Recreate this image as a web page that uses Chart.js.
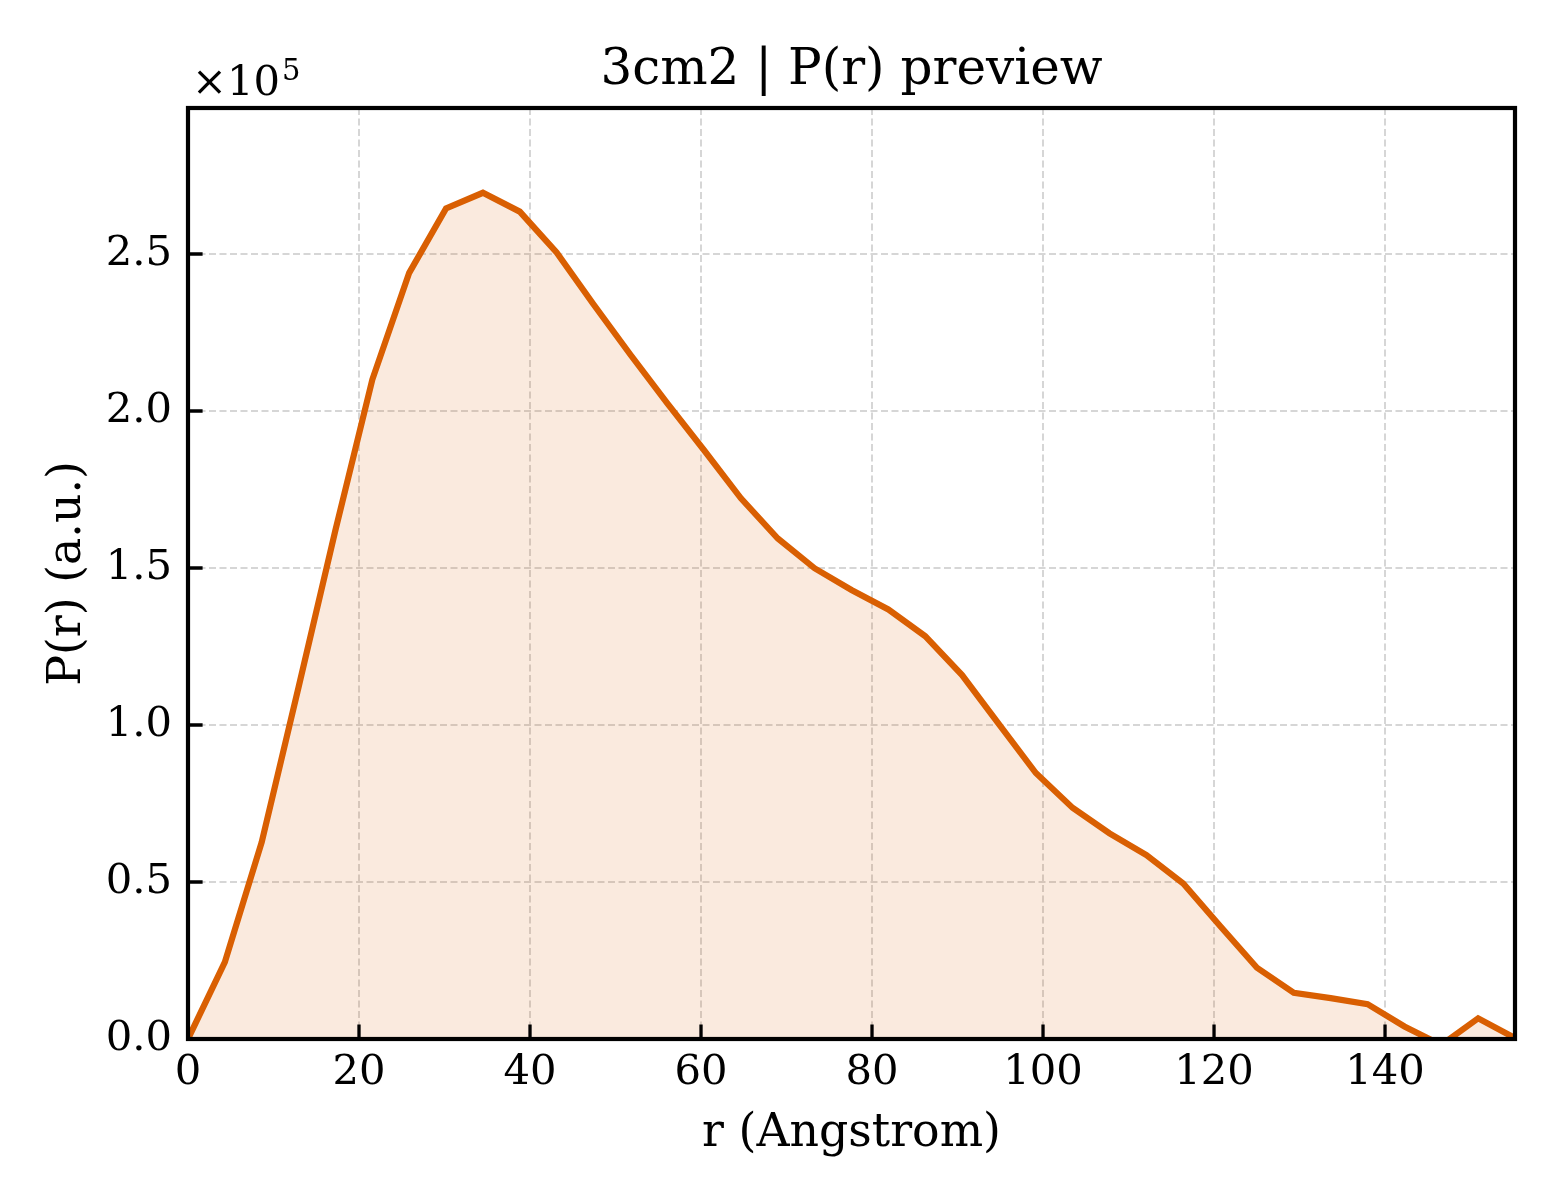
<!DOCTYPE html>
<html>
<head>
<meta charset="utf-8">
<title>3cm2 | P(r) preview</title>
<script src="https://cdn.jsdelivr.net/npm/chart.js@4.4.1/dist/chart.umd.min.js"></script>
<style>
  html, body { margin: 0; padding: 0; background: #fff; }
  #wrap { width: 1560px; height: 1200px; }
</style>
</head>
<body>
<div id="wrap"><canvas id="pr" width="1560" height="1200"></canvas></div>
<script>
// r grid (Angstrom)
const rValues = [
  0, 4.31, 8.62, 12.93, 17.24, 21.56, 25.87, 30.18, 34.49, 38.80,
  43.11, 47.42, 51.73, 56.04, 60.36, 64.67, 68.98, 73.29, 77.60, 81.91,
  86.22, 90.53, 94.84, 99.16, 103.47, 107.78, 112.09, 116.40, 120.71, 125.02,
  129.33, 133.64, 137.96, 142.27, 146.58, 150.89, 155.20
];
// P(r) in arbitrary units
const prValues = [
  0, 24500, 62700, 112000, 162000, 210000, 244000, 264500, 269500, 263500,
  250500, 234000, 218000, 202500, 187500, 172200, 159400, 149900, 143000, 136800,
  128300, 115900, 100300, 84700, 73600, 65500, 58600, 49500, 36000, 22700,
  14700, 13000, 11100, 4000, -1900, 6600, 300
];
const xTickValues = [0, 20, 40, 60, 80, 100, 120, 140];
const yTickValues = [0, 50000, 100000, 150000, 200000, 250000];

const TITLE = "3cm2 | P(r) preview";
const X_LABEL = "r (Angstrom)";
const Y_LABEL = "P(r) (a.u.)";
const X_MAX = 155.2;
const Y_MAX = 296500;
const Y_SCALE = 1e5;

const SERIF = "'DejaVu Serif', 'Liberation Serif', serif";
const LINE_COLOR = "#d95f02";
const GRID_COLOR = "#d6d6d6";

// matplotlib-like frame: box spines, inward ticks, labels, offset text
const framePlugin = {
  id: "frame",
  afterDraw(chart) {
    const { ctx, chartArea: a, scales } = chart;
    const midX = (a.left + a.right) / 2;
    ctx.save();

    ctx.strokeStyle = "#000";
    ctx.lineWidth = 3.3;
    ctx.beginPath();
    scales.x.ticks.forEach(t => {
      const px = scales.x.getPixelForValue(t.value);
      ctx.moveTo(px, a.bottom);
      ctx.lineTo(px, a.bottom - 14.6);
    });
    scales.y.ticks.forEach(t => {
      const py = scales.y.getPixelForValue(t.value);
      ctx.moveTo(a.left, py);
      ctx.lineTo(a.left + 14.6, py);
    });
    ctx.stroke();

    ctx.lineWidth = 4.2;
    ctx.strokeRect(a.left, a.top, a.right - a.left, a.bottom - a.top);

    ctx.fillStyle = "#000";
    ctx.textBaseline = "alphabetic";

    ctx.textAlign = "center";
    ctx.font = `50px ${SERIF}`;
    ctx.fillText(TITLE, midX, a.top - 24);

    ctx.font = `45.8px ${SERIF}`;
    ctx.fillText(X_LABEL, midX, a.bottom + 107);

    ctx.save();
    ctx.translate(a.left - 108, (a.top + a.bottom) / 2);
    ctx.rotate(-Math.PI / 2);
    ctx.fillText(Y_LABEL, 0, 0);
    ctx.restore();

    // offset text ×10^5
    ctx.textAlign = "left";
    ctx.font = `41.7px ${SERIF}`;
    const base = "\u00d710";
    ctx.fillText(base, a.left + 4, a.top - 13);
    const w = ctx.measureText(base).width;
    ctx.font = `29px ${SERIF}`;
    ctx.fillText(String(Math.round(Math.log10(Y_SCALE))), a.left + 6 + w, a.top - 28);

    ctx.restore();
  }
};

const points = rValues.map((r, i) => ({ x: r, y: prValues[i] }));

new Chart(document.getElementById("pr"), {
  type: "line",
  data: {
    datasets: [{
      data: points,
      borderColor: LINE_COLOR,
      backgroundColor: "rgba(217, 95, 2, 0.13)",
      borderWidth: 6.2,
      pointRadius: 0,
      tension: 0,
      fill: "origin",
      clip: 0
    }]
  },
  options: {
    responsive: false,
    devicePixelRatio: 1,
    animation: false,
    layout: { padding: { top: 108, right: 45, left: 0, bottom: 0 } },
    plugins: {
      legend: { display: false },
      tooltip: { enabled: false },
      title: { display: false }
    },
    scales: {
      x: {
        type: "linear",
        min: 0,
        max: X_MAX,
        bounds: "data",
        afterFit: s => { s.height = 161; },
        afterBuildTicks: s => { s.ticks = xTickValues.map(v => ({ value: v })); },
        ticks: {
          padding: 9,
          color: "#000",
          font: { family: SERIF, size: 41.7 },
          callback: v => v.toFixed(0)
        },
        grid: { color: GRID_COLOR, lineWidth: 2, drawTicks: false },
        border: { display: false, dash: [7, 3.5] }
      },
      y: {
        type: "linear",
        min: 0,
        max: Y_MAX,
        bounds: "data",
        afterFit: s => { s.width = 188; },
        afterBuildTicks: s => { s.ticks = yTickValues.map(v => ({ value: v })); },
        ticks: {
          padding: 16,
          color: "#000",
          font: { family: SERIF, size: 41.7 },
          callback: v => (v / Y_SCALE).toFixed(1)
        },
        grid: { color: GRID_COLOR, lineWidth: 2, drawTicks: false },
        border: { display: false, dash: [7, 3.5] }
      }
    }
  },
  plugins: [framePlugin]
});
</script>
</body>
</html>
